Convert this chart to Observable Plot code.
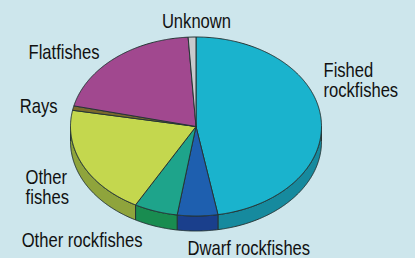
<!DOCTYPE html>
<html><head><meta charset="utf-8">
<script src="https://cdn.jsdelivr.net/npm/d3@7"></script>
<script src="https://cdn.jsdelivr.net/npm/@observablehq/plot@0.6"></script>
<style>html,body{margin:0;padding:0;background:#cde6ec;}</style>
</head><body><div id="chart"></div>
<script>
// ---- data ----
const categories = ["Fished rockfishes","Dwarf rockfishes","Other rockfishes","Other fishes","Rays","Flatfishes","Unknown"];
const shares = [47.2, 5.2, 5.6, 19.9, 0.8, 20.3, 1.0];
const labelText = ["Fished\nrockfishes","Dwarf rockfishes","Other rockfishes","Other\nfishes","Rays","Flatfishes","Unknown"];

// ---- styling / layout ----
const topColors  = ["#1ab3cd","#1e5faf","#1ea48b","#c4d74e","#7a6a2c","#a1488f","#c8cacd"];
const sideColors = ["#168a9e","#1a3f8c","#198c50","#8fa43c","#5e4f20","#7a3369","#9a9c9f"];
const labelAnchor = ["start","start","start","start","end","end","middle"];
const labelNudge = [[2.5,-38],[-10,32.5],[-134,29],[-57,22.6],[-15.7,-1],[-15.6,-5],[4.4,-15.5]];

const W = 415, H = 258, cx = 195.5, cy = 126, rx = 125.5, ry = 89.5, depth = 15;
const arcs = d3.pie().sort(null).value(d => d)(shares);
const pt = (a, off = 0) => [rx * Math.sin(a), -ry * Math.cos(a) + off];
function arcPts(a0, a1, off) {
  const n = Math.max(2, Math.ceil((a1 - a0) / (Math.PI / 360)));
  const out = [];
  for (let i = 0; i <= n; i++) out.push(pt(a0 + (a1 - a0) * i / n, off));
  return out;
}

const sideRows = [], topRows = [];
arcs.forEach((a, i) => {
  const s0 = Math.max(a.startAngle, Math.PI / 2), s1 = Math.min(a.endAngle, 3 * Math.PI / 2);
  if (s0 < s1) {
    const poly = [...arcPts(s0, s1, 0), ...arcPts(s0, s1, depth).reverse()];
    poly.push(poly[0]);
    poly.forEach(([x, y]) => sideRows.push({k: "s" + i, x, y, color: sideColors[i]}));
  }
  const poly = [[0, 0], ...arcPts(a.startAngle, a.endAngle, 0), [0, 0]];
  poly.forEach(([x, y]) => topRows.push({k: "t" + i, x, y, color: topColors[i]}));
});

const labels = arcs.map((a, i) => {
  const m = (a.startAngle + a.endAngle) / 2;
  const [bx, by] = pt(m);
  return {text: labelText[i], anchor: labelAnchor[i], x: bx + labelNudge[i][0], y: by + labelNudge[i][1]};
});

const textOpts = anchor => ({x: "x", y: "y", text: "text", textAnchor: anchor, fontSize: 20, lineHeight: 1.0, fill: "#111"});

const chart = Plot.plot({
  width: W, height: H, margin: 0,
  x: {domain: [-cx, W - cx], axis: null},
  y: {domain: [H - cy, -cy], axis: null},
  color: {type: "identity"},
  style: {background: "#cde6ec", fontFamily: "'Liberation Sans',Arial,sans-serif", overflow: "visible"},
  marks: [
    Plot.line(sideRows, {x: "x", y: "y", z: "k", fill: "color", stroke: "#253535", strokeWidth: 1, strokeLinejoin: "round", curve: "linear"}),
    Plot.line(topRows, {x: "x", y: "y", z: "k", fill: "color", stroke: "#253535", strokeWidth: 1, strokeLinejoin: "round", curve: "linear"}),
    Plot.text(labels.filter(d => d.anchor === "start"), textOpts("start")),
    Plot.text(labels.filter(d => d.anchor === "middle"), textOpts("middle")),
    Plot.text(labels.filter(d => d.anchor === "end"), textOpts("end"))
  ]
});
// condensed lettering like the reference (horizontal squeeze around each anchor)
d3.select(chart).selectAll("text").each(function() {
  const t = this.getAttribute("transform");
  if (t) this.setAttribute("transform", t + " scale(0.83,1)");
});
document.getElementById("chart").appendChild(chart);
</script>
</body></html>
